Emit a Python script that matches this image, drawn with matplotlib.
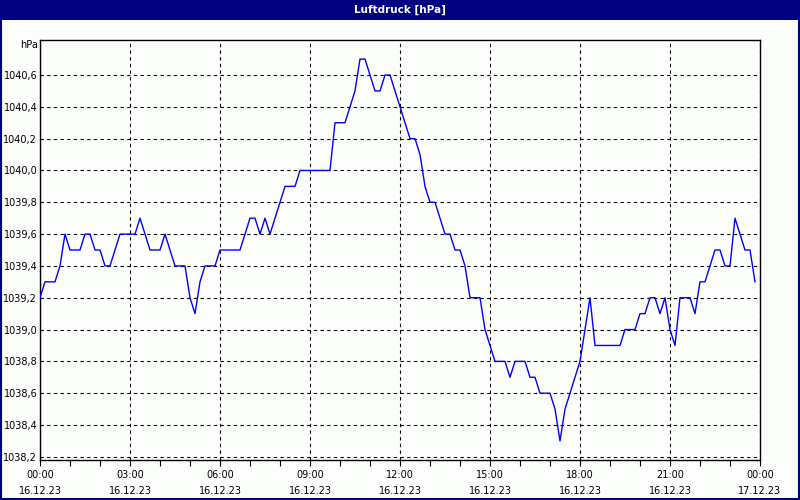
import matplotlib
matplotlib.use("Agg")
import matplotlib.pyplot as plt
from matplotlib.patches import Rectangle
import numpy as np

# pressure every 10 minutes, 16.12.23 00:00 .. 23:50
pressure = [
    1039.2, 1039.3, 1039.3, 1039.3, 1039.4, 1039.6, 1039.5, 1039.5, 1039.5, 1039.6,
    1039.6, 1039.5, 1039.5, 1039.4, 1039.4, 1039.5, 1039.6, 1039.6, 1039.6, 1039.6,
    1039.7, 1039.6, 1039.5, 1039.5, 1039.5, 1039.6, 1039.5, 1039.4, 1039.4, 1039.4,
    1039.2, 1039.1, 1039.3, 1039.4, 1039.4, 1039.4, 1039.5, 1039.5, 1039.5, 1039.5,
    1039.5, 1039.6, 1039.7, 1039.7, 1039.6, 1039.7, 1039.6, 1039.7, 1039.8, 1039.9,
    1039.9, 1039.9, 1040.0, 1040.0, 1040.0, 1040.0, 1040.0, 1040.0, 1040.0, 1040.3,
    1040.3, 1040.3, 1040.4, 1040.5, 1040.7, 1040.7, 1040.6, 1040.5, 1040.5, 1040.6,
    1040.6, 1040.5, 1040.4, 1040.3, 1040.2, 1040.2, 1040.1, 1039.9, 1039.8, 1039.8,
    1039.7, 1039.6, 1039.6, 1039.5, 1039.5, 1039.4, 1039.2, 1039.2, 1039.2, 1039.0,
    1038.9, 1038.8, 1038.8, 1038.8, 1038.7, 1038.8, 1038.8, 1038.8, 1038.7, 1038.7,
    1038.6, 1038.6, 1038.6, 1038.5, 1038.3, 1038.5, 1038.6, 1038.7, 1038.8, 1039.0,
    1039.2, 1038.9, 1038.9, 1038.9, 1038.9, 1038.9, 1038.9, 1039.0, 1039.0, 1039.0,
    1039.1, 1039.1, 1039.2, 1039.2, 1039.1, 1039.2, 1039.0, 1038.9, 1039.2, 1039.2,
    1039.2, 1039.1, 1039.3, 1039.3, 1039.4, 1039.5, 1039.5, 1039.4, 1039.4, 1039.7,
    1039.6, 1039.5, 1039.5, 1039.3,
]
step_minutes = 10
hours = [i * step_minutes / 60 for i in range(len(pressure))]

x_ticks = [0, 3, 6, 9, 12, 15, 18, 21, 24]
x_labels = ["00:00\n16.12.23", "03:00\n16.12.23", "06:00\n16.12.23", "09:00\n16.12.23",
            "12:00\n16.12.23", "15:00\n16.12.23", "18:00\n16.12.23", "21:00\n16.12.23",
            "00:00\n17.12.23"]
y_ticks = [1038.2, 1038.4, 1038.6, 1038.8, 1039.0, 1039.2, 1039.4, 1039.6,
           1039.8, 1040.0, 1040.2, 1040.4, 1040.6]
y_labels = [f"{v:.1f}".replace(".", ",") for v in y_ticks]
title = "Luftdruck [hPa]"
unit = "hPa"

navy = "#000080"
bg = "#FBFEFB"

fig = plt.figure(figsize=(8, 5), dpi=100, facecolor=bg)
# window frame and title bar
fig.patches.append(Rectangle((0, 480 / 500), 1, 20 / 500, transform=fig.transFigure,
                             facecolor=navy, edgecolor="none", zorder=0))
fig.patches.append(Rectangle((0.001, 0.002), 0.9975, 0.996, transform=fig.transFigure,
                             facecolor="none", edgecolor=navy, linewidth=1.5, zorder=5))
fig.text(0.5, 490 / 500, title, color="white", fontsize=7.5, fontweight="bold",
         ha="center", va="center")

ax = fig.add_axes([40 / 800, 40 / 500, 720 / 800, 420 / 500])
ax.set_facecolor(bg)
ax.plot(hours, pressure, color="#0000FF", linewidth=1.0, zorder=3)

ax.set_xlim(0, 24)
ax.set_ylim(1038.18, 1040.82)
ax.set_xticks(x_ticks)
ax.set_xticklabels(x_labels, fontsize=7, linespacing=1.75)
ax.set_xticks(range(0, 25), minor=True)
ax.set_yticks(y_ticks)
ax.set_yticklabels(y_labels, fontsize=7)
ax.tick_params(axis="y", length=0, pad=2)
ax.tick_params(axis="x", which="both", direction="out", length=4, width=0.8, pad=3)
ax.grid(True, which="major", color="black", linestyle=(0, (3, 3)), linewidth=0.8)
for s in ax.spines.values():
    s.set_color("black")
    s.set_linewidth(1.0)

ax.text(-0.003, 1.0, unit, transform=ax.transAxes, ha="right", va="top", fontsize=7)

fig.savefig("out.png", dpi=100, facecolor=bg)
